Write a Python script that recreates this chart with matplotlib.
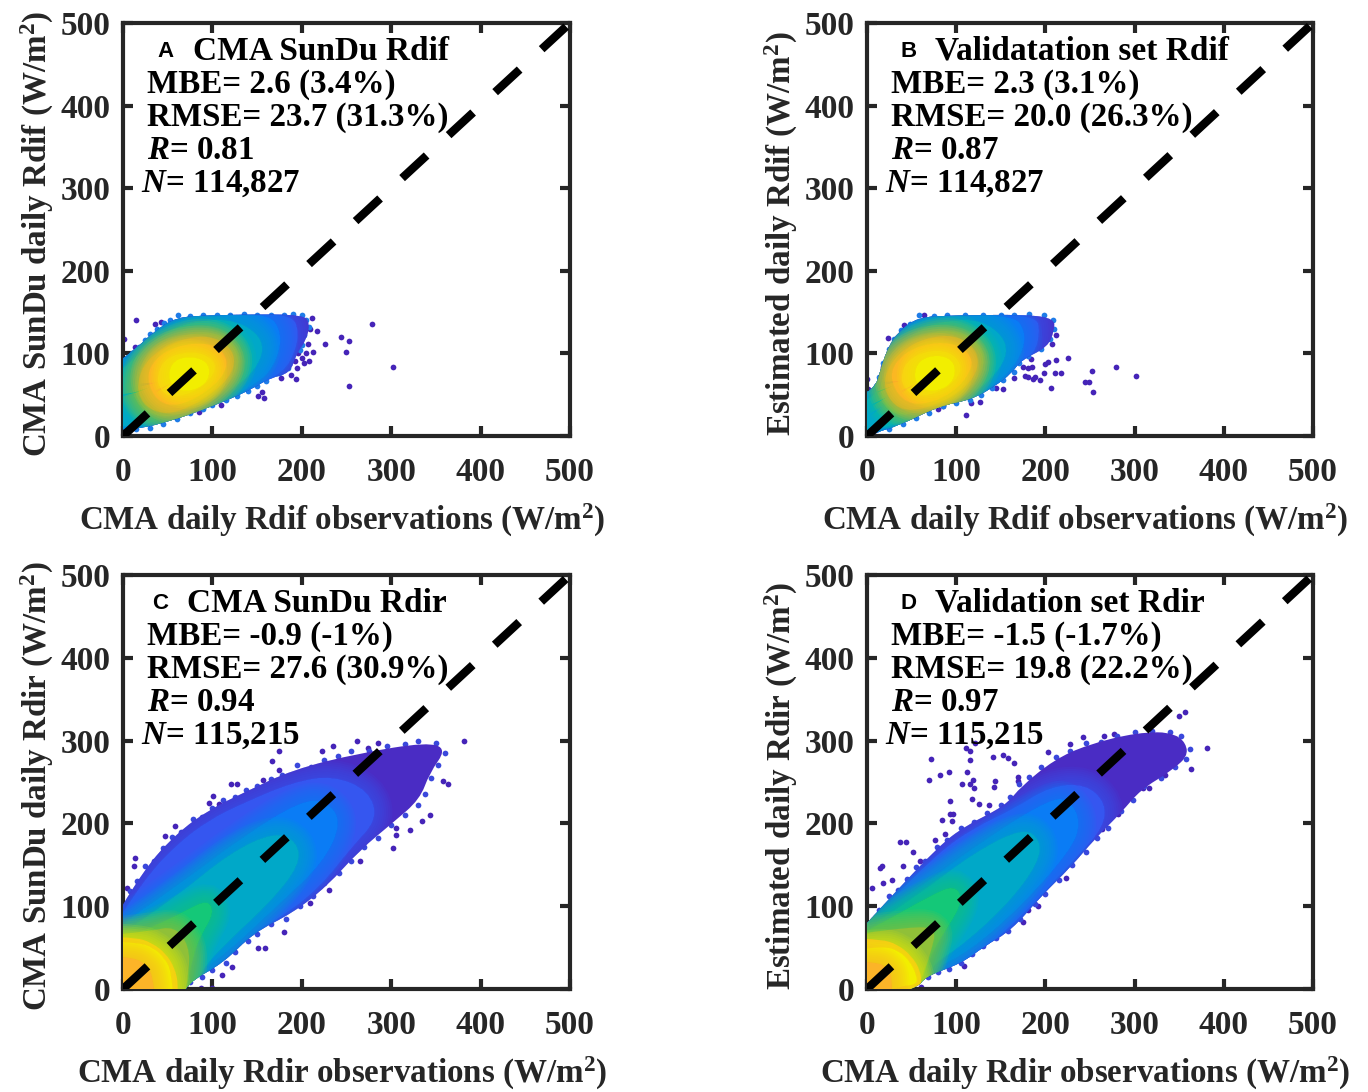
import numpy as np
import matplotlib
matplotlib.use('Agg')
import matplotlib.pyplot as plt
from matplotlib.patches import PathPatch
from matplotlib.path import Path

plt.rcParams['font.family'] = 'Liberation Serif'
plt.rcParams['font.weight'] = 'bold'
plt.rcParams['mathtext.fontset'] = 'custom'
plt.rcParams['mathtext.rm'] = 'Liberation Serif:bold'
plt.rcParams['mathtext.bf'] = 'Liberation Serif:bold'
plt.rcParams['mathtext.it'] = 'Liberation Serif:italic:bold'

# Colores de las bandas de densidad, de fuera hacia dentro
colores_a = ['#4a2cc4', '#3556f0', '#0a7cf5', '#00a8c8', '#14cc84', '#a0c030', '#fbae2c', '#fcc81c', '#f2ee00']
colores_c = ['#4a2cc4', '#3556f0', '#0a7cf5', '#00a8c8', '#14c878', '#90c038', '#fbae2c', '#f2ee00', '#fcb428']

# Contornos de densidad (x, y en W/m2)
bandas_a = [
    [(0,74),(15,106),(34,126),(60,144),(97,146),(135,147),(202,147),(209,136),(205,116),(194,100),(187,76),(164,70),(149,60),(127,48),(90,32),(53,18),(15,8),(0,8)],
    [(0,74),(15,106),(34,126),(60,144),(97,146),(135,147),(190,147),(197,125),(192,100),(180,78),(149,60),(127,48),(90,32),(53,18),(15,8),(0,8)],
    [(0,72),(15,103),(34,122),(60,141),(97,145),(135,146),(165,146),(176,128),(176,105),(165,78),(148,63),(127,50),(90,34),(53,20),(15,9),(0,9)],
    [(0,62),(12,92),(30,113),(60,133),(92,141),(125,140),(150,125),(158,105),(148,80),(125,58),(90,38),(55,24),(20,12),(0,12)],
    [(13,60),(18,85),(38,108),(70,124),(100,126),(122,115),(131,95),(125,72),(105,50),(78,32),(50,22),(28,28),(16,42)],
    [(16,62),(22,85),(40,104),(70,119),(98,121),(118,110),(126,93),(120,72),(100,52),(75,35),(50,26),(30,32),(19,45)],
    [(27,70),(32,88),(50,105),(78,113),(105,110),(118,92),(112,72),(95,55),(72,40),(50,36),(34,48)],
    [(38,72),(44,90),(60,100),(85,102),(102,92),(104,78),(90,60),(68,48),(50,48),(40,58)],
    [(50,72),(56,92),(78,97),(97,88),(96,66),(78,54),(58,56)],
]
bandas_b = [
    [(0,42),(9,56),(16,84),(24,108),(35,126),(57,144),(98,146),(180,147),(210,142),(210,128),(203,108),(173,92),(162,76),(143,60),(117,44),(80,36),(35,12),(5,3),(0,0)],
    [(0,42),(9,56),(16,84),(24,108),(35,126),(57,144),(98,146),(190,147),(194,125),(188,100),(173,92),(162,76),(143,60),(117,44),(80,36),(35,12),(5,3),(0,0)],
    [(0,42),(10,56),(18,84),(26,108),(37,124),(58,142),(98,145),(165,146),(177,128),(176,105),(162,80),(143,62),(117,46),(80,37),(35,13),(5,4),(0,0)],
    [(0,30),(12,50),(20,78),(32,102),(58,130),(95,141),(128,140),(152,122),(158,100),(145,75),(120,52),(85,38),(40,18),(10,6),(0,4)],
    [(13,50),(20,80),(36,106),(70,126),(100,128),(124,115),(133,95),(125,70),(105,48),(78,36),(50,26),(28,26)],
    [(18,60),(24,85),(42,106),(70,120),(98,122),(118,110),(126,92),(120,70),(100,50),(78,38),(50,30),(30,36)],
    [(26,72),(32,90),(50,106),(78,114),(105,110),(120,92),(112,70),(95,52),(72,40),(50,38),(34,50)],
    [(38,74),(44,90),(62,102),(88,104),(104,92),(106,76),(90,58),(68,48),(50,50),(40,60)],
    [(52,72),(58,92),(80,99),(99,90),(98,66),(80,54),(60,56)],
]
bandas_c = [
    [(0,56),(23,144),(60,188),(97,217),(135,237),(190,265),(265,285),(340,298),(362,290),(343,261),(332,229),(302,201),(265,168),(228,124),(190,92),(146,68),(112,31),(71,7),(60,0),(0,0)],
    [(0,50),(23,132),(60,175),(97,205),(135,225),(190,250),(235,258),(275,240),(285,205),(255,170),(222,125),(185,92),(142,66),(110,31),(71,7),(60,0),(0,0)],
    [(0,62),(60,124),(135,185),(198,227),(228,228),(245,201),(224,152),(172,100),(116,43),(71,11),(60,0),(0,0)],
    [(0,50),(60,112),(120,165),(170,190),(195,178),(198,150),(165,105),(120,60),(85,20),(72,0),(0,0)],
    [(0,48),(40,78),(70,95),(95,108),(102,92),(88,66),(78,40),(72,4),(60,0),(0,0)],
    [(0,64),(30,70),(58,76),(74,52),(74,20),(66,0),(0,0)],
    [(0,63),(15,62),(32,56),(48,43),(58,25),(62,5),(60,0),(0,0)],
    [(0,58),(18,56),(34,50),(46,38),(54,22),(57,0),(0,0)],
    [(0,40),(12,38),(25,30),(33,18),(37,0),(0,0)],
]
bandas_d = [
    [(0,50),(24,108),(80,172),(110,197),(155,221),(173,245),(210,277),(247,295),(303,310),(348,310),(363,285),(341,263),(307,241),(285,213),(255,181),(229,148),(195,112),(162,71),(132,52),(106,31),(65,15),(57,1),(0,0)],
    [(0,50),(24,104),(80,165),(120,195),(165,218),(205,245),(245,248),(268,225),(265,195),(240,165),(210,130),(175,90),(140,55),(106,31),(65,15),(57,1),(0,0)],
    [(0,60),(9,87),(61,124),(136,184),(207,231),(228,228),(240,201),(229,168),(173,100),(117,47),(72,22),(57,1),(0,0)],
    [(0,55),(55,112),(120,165),(175,195),(195,180),(192,152),(160,105),(110,55),(72,28),(57,5),(0,0)],
    [(0,55),(30,88),(70,112),(98,126),(108,108),(92,76),(75,50),(65,20),(57,2),(0,0)],
    [(0,64),(40,74),(78,75),(72,45),(62,15),(57,1),(0,0)],
    [(0,61),(16,60),(34,54),(50,40),(60,22),(61,5),(57,0),(0,0)],
    [(0,45),(18,52),(36,46),(48,34),(56,16),(56,5),(34,3),(0,0)],
    [(0,34),(12,32),(22,26),(28,16),(28,0),(0,0)],
]

# Puntos sueltos alrededor de cada nube
sueltos_a_x = [15,36,43,1,13,20,4,217,211,209,207,226,244,253,279,249,302,253,194,177,188,195,202,208,200,192,212,205,196,155,151,158,110,85]
sueltos_a_y = [140,136,138,118,108,107,94,127,143,129,111,111,120,115,135,102,84,60,69,70,74,82,88,91,94,91,102,100,100,53,48,46,37,29]
sueltos_b_x = [225,212,203,199,184,212,207,252,279,302,244,249,253,206,211,217,198,194,188,186,180,177,175,180,185,165,152,145,127,117,111,85,80,60,54,0,1,18,24,42,64]
sueltos_b_y = [94,92,89,87,93,122,111,79,83,73,65,65,53,58,76,76,76,68,72,69,71,73,84,82,83,70,57,58,41,40,26,36,33,30,26,69,57,84,119,134,147]
sueltos_c_x = [381,364,358,343,335,321,305,305,302,265,230,209,180,159,151,122,111,174,167,223,235,262,285,274,101,121,127,96,107,58,47,13,12,4,175,157,87,100,71]
sueltos_c_y = [300,247,251,210,203,192,194,186,170,154,119,104,69,50,50,26,17,287,275,288,293,299,297,291,233,248,247,225,223,197,185,158,149,122,264,253,1,1,1]
sueltos_d_x = [381,356,350,72,69,82,92,112,115,115,111,121,141,153,158,165,106,119,116,120,143,142,169,169,93,118,125,137,84,93,96,95,37,44,15,17,6,52,59,40,18,28,76,88,203,228,242,266,277,363,334,316,309,281,264,223,214,180,192,175,109,60]
sueltos_d_y = [291,334,330,278,252,259,262,262,276,287,291,297,280,283,279,273,248,253,248,243,251,244,256,251,227,229,223,222,204,211,211,203,178,177,146,148,122,165,154,148,128,132,180,187,286,296,304,306,308,266,259,243,243,211,193,134,141,95,100,81,28,2]

# Puntos del borde irregular de cada nube
borde_a_x = [10,18,25,30,38,46,53,62,75,90,105,120,135,150,165,180,190,200,205,208,202,200,198,185,175,160,150,140,128,115,100,90,75,60,45,30,15]
borde_a_y = [100,108,116,124,130,137,140,146,145,146,147,146,148,146,147,147,148,146,140,132,122,110,104,82,76,66,60,55,48,43,38,33,28,20,15,10,8]
borde_b_x = [5,10,14,18,25,30,38,48,58,75,90,110,130,150,165,182,198,208,210,205,195,180,170,165,152,140,128,115,100,85,70,55,40,25]
borde_b_y = [45,60,72,88,105,118,128,136,146,145,146,147,146,147,147,148,146,140,130,118,105,97,88,78,68,58,50,43,40,36,28,22,15,9]
borde_c_x = [8,16,25,35,45,55,65,78,88,100,112,125,138,150,165,178,195,210,225,240,255,275,295,315,330,350,360,352,345,338,330,315,300,285,270,255,242,225,212,198,182,165,150,140,125,115,100,88,75,68]
borde_c_y = [118,130,148,155,170,183,190,205,208,218,228,232,240,245,254,258,270,268,277,281,287,288,293,296,299,297,285,270,255,235,222,210,198,182,172,155,140,128,112,100,85,78,66,58,45,32,23,15,8,3]
borde_d_x = [6,14,25,35,45,55,65,78,90,105,120,135,150,160,170,182,195,212,228,245,262,280,300,320,340,352,362,358,345,330,310,298,285,270,258,245,230,215,200,188,172,158,145,130,118,105,92,80,68]
borde_d_y = [82,95,112,120,133,147,155,172,180,195,202,212,222,232,248,256,268,280,288,297,298,305,310,311,310,305,290,278,268,255,245,228,215,195,182,165,150,132,115,103,85,70,62,52,42,32,24,20,15]

etiquetas_x = ['CMA daily Rdif observations (W/m$^{2}$)', 'CMA daily Rdif observations (W/m$^{2}$)',
               'CMA daily Rdir observations (W/m$^{2}$)', 'CMA daily Rdir observations (W/m$^{2}$)']
etiquetas_y = ['CMA SunDu daily Rdif (W/m$^{2}$)', 'Estimated daily Rdif (W/m$^{2}$)',
               'CMA SunDu daily Rdir (W/m$^{2}$)', 'Estimated daily Rdir (W/m$^{2}$)']
letras = ['A', 'B', 'C', 'D']
titulos = ['CMA SunDu Rdif', 'Validatation set Rdif', 'CMA SunDu Rdir', 'Validation set Rdir']
mbe = ['2.6 (3.4%)', '2.3 (3.1%)', '-0.9 (-1%)', '-1.5 (-1.7%)']
rmse = ['23.7 (31.3%)', '20.0 (26.3%)', '27.6 (30.9%)', '19.8 (22.2%)']
r_valores = ['0.81', '0.87', '0.94', '0.97']
n_valores = ['114,827', '114,827', '115,215', '115,215']
ticks = [0, 100, 200, 300, 400, 500]

# Posicion de cada panel en pixeles (izq, arriba, der, abajo)
marcos = [(123, 23, 570, 436), (867, 23, 1313, 436), (123, 575, 570, 989), (867, 575, 1313, 989)]
letra_x = [39, 37, 33, 37]
titulo_x = [78, 76, 72, 76]

bandas = [bandas_a, bandas_b, bandas_c, bandas_d]
colores = [colores_a, colores_a, colores_c, colores_c]
color_borde = ['#1f7ce8', '#1f7ce8', '#3a48dc', '#3a48dc']
sueltos = [(sueltos_a_x, sueltos_a_y), (sueltos_b_x, sueltos_b_y), (sueltos_c_x, sueltos_c_y), (sueltos_d_x, sueltos_d_y)]
bordes = [(borde_a_x, borde_a_y), (borde_b_x, borde_b_y), (borde_c_x, borde_c_y), (borde_d_x, borde_d_y)]


def camino_suave(banda):
    # Curva cerrada que redondea las esquinas; lo que toca un eje se saca fuera
    v = np.array(banda, dtype=float)
    v[v == 0] = -25
    medios = (v + np.roll(v, -1, axis=0)) / 2
    puntos = [medios[-1]]
    codigos = [Path.MOVETO]
    for k in range(len(v)):
        puntos += [v[k], medios[k]]
        codigos += [Path.CURVE3, Path.CURVE3]
    return Path(puntos, codigos)


W, H = 1368, 1092
fig = plt.figure(figsize=(W / 100, H / 100), dpi=100)

for i in range(4):
    iz, ar, de, ab = marcos[i]
    ax = fig.add_axes([iz / W, 1 - ab / H, (de - iz) / W, (ab - ar) / H])

    ax.scatter(sueltos[i][0], sueltos[i][1], s=17, color='#4524b8', linewidths=0, zorder=2)
    ax.scatter(bordes[i][0], bordes[i][1], s=17, color=color_borde[i], linewidths=0, zorder=2)

    contorno = None
    for j, banda in enumerate(bandas[i]):
        camino = camino_suave(banda)
        p = PathPatch(camino, fc=colores[i][j], ec='none', zorder=3 + j)
        ax.add_patch(p)
        if j == 0:
            contorno = p
            continue
        p.set_clip_path(contorno)
        # el nucleo de C y D tiene borde neto
        if i >= 2 and j == 6:
            continue
        # borde difuso para suavizar el paso entre bandas
        for w in (26, 23, 20, 17, 14, 11, 8, 5, 2):
            difuso = PathPatch(camino, fc='none', ec=colores[i][j], lw=w, alpha=0.11, zorder=3 + j)
            ax.add_patch(difuso)
            difuso.set_clip_path(contorno)

    ax.plot([0, 500], [0, 500], color='k', lw=6, linestyle=(0, (4.0, 3.6)), dash_capstyle='butt', zorder=20)

    ax.set_xlim(0, 500)
    ax.set_ylim(0, 500)
    ax.set_xticks(ticks)
    ax.set_yticks(ticks)
    ax.tick_params(direction='in', length=7, width=3, top=True, right=True, labelsize=24, color='#262626', labelcolor='#262626')
    ax.tick_params(axis='x', pad=15)
    ax.tick_params(axis='y', pad=9)
    for s in ax.spines.values():
        s.set_linewidth(3)
        s.set_color('#262626')

    ax.set_xlabel(etiquetas_x[i], fontsize=23.8, fontweight='bold', color='#262626')
    ax.set_ylabel(etiquetas_y[i], fontsize=23.8, fontweight='bold', color='#262626')
    ax.xaxis.set_label_coords(0.49, -0.159)
    ax.yaxis.set_label_coords(-0.15, 0.49)

    ax.text(letra_x[i], 466, letras[i], fontsize=16, family='Liberation Sans', weight='bold', va='center', color='k', zorder=30)
    ax.text(titulo_x[i], 466, titulos[i], fontsize=24, va='center', color='k', zorder=30)
    ax.text(27, 426, 'MBE= ' + mbe[i], fontsize=23.8, va='center', color='k', zorder=30)
    ax.text(27, 386, 'RMSE= ' + rmse[i], fontsize=23.8, va='center', color='k', zorder=30)
    ax.text(27, 346, '$\\mathit{R}$= ' + r_valores[i], fontsize=23.8, va='center', color='k', zorder=30)
    ax.text(20, 306, '$\\mathit{N}$= ' + n_valores[i], fontsize=23.8, va='center', color='k', zorder=30)

plt.savefig('out.png', dpi=100)
